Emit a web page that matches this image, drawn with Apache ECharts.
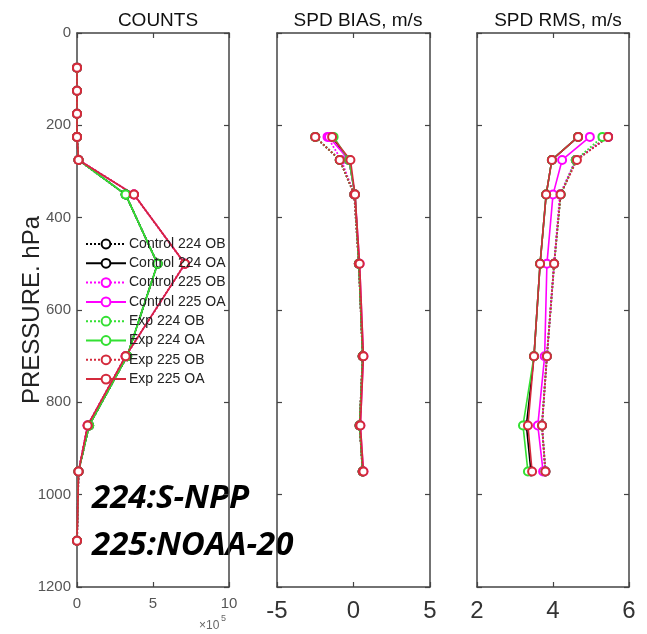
<!DOCTYPE html>
<html>
<head>
<meta charset="utf-8">
<script src="https://cdn.jsdelivr.net/npm/echarts@6/dist/echarts.min.js"></script>
<style>html,body{margin:0;padding:0;background:#fff;}#c{width:647px;height:634px;}</style>
</head>
<body>
<div id="c"></div>
<script>
// ---------- DATA ----------
var seriesNames = ['Control 224 OB','Control 224 OA','Control 225 OB','Control 225 OA','Exp 224 OB','Exp 224 OA','Exp 225 OB','Exp 225 OA'];
var countLevels = [75,125,175,225,275,350,500,700,850,950,1100];
var count224 = [0,0,0,0,10000,320000,530000,330000,80000,10000,0];
var count225 = [0,0,0,0,10000,375000,710000,320000,70000,10000,0];

var statLevels = [225,275,350,500,700,850,950];
var biasControl224OB = [-2.5,-0.9,0.05,0.35,0.6,0.4,0.6];
var biasControl224OA = [-1.4,-0.3,0.1,0.35,0.6,0.4,0.6];
var biasControl225OB = [-1.7,-0.8,0.05,0.35,0.6,0.4,0.6];
var biasControl225OA = [-1.6,-0.3,0.1,0.4,0.65,0.45,0.65];
var biasExp224OB = [-2.5,-0.9,0.05,0.35,0.6,0.4,0.6];
var biasExp224OA = [-1.3,-0.3,0.1,0.35,0.6,0.4,0.6];
var biasExp225OB = [-2.5,-0.9,0.05,0.35,0.6,0.4,0.6];
var biasExp225OA = [-1.4,-0.2,0.1,0.4,0.65,0.45,0.65];

var rmsControl224OB = [5.45,4.6,4.2,4.03,3.84,3.71,3.8];
var rmsControl224OA = [4.66,3.97,3.82,3.66,3.5,3.3,3.42];
var rmsControl225OB = [5.45,4.6,4.18,4.03,3.84,3.71,3.8];
var rmsControl225OA = [4.97,4.24,4.0,3.84,3.78,3.6,3.74];
var rmsExp224OB = [5.3,4.6,4.2,4.03,3.84,3.71,3.8];
var rmsExp224OA = [4.66,3.97,3.82,3.66,3.5,3.21,3.34];
var rmsExp225OB = [5.45,4.63,4.2,4.03,3.84,3.71,3.8];
var rmsExp225OA = [4.66,3.97,3.82,3.66,3.5,3.34,3.45];

var countTicks = ['0','5','10'];
// ---------- STYLE ----------
var colors = ['#000000','#000000','#ff00ff','#ff00ff','#33e033','#33e033','#d42a3c','#d42a3c'];
var dashed = [true,false,true,false,true,false,true,false];

var countsBy = [count224,count224,count225,count225,count224,count224,count225,count225];
var biasBy = [biasControl224OB,biasControl224OA,biasControl225OB,biasControl225OA,biasExp224OB,biasExp224OA,biasExp225OB,biasExp225OA];
var rmsBy = [rmsControl224OB,rmsControl224OA,rmsControl225OB,rmsControl225OA,rmsExp224OB,rmsExp224OA,rmsExp225OB,rmsExp225OA];

function pairs(vals, levels){ return levels.map(function(p,i){ return [vals[i], p]; }); }

var series = [];
function addPanel(dataBy, levels, axisIdx){
  for (var i=0;i<8;i++){
    series.push({
      name: seriesNames[i], type:'line', xAxisIndex: axisIdx, yAxisIndex: axisIdx,
      data: pairs(dataBy[i], levels),
      symbol:'emptyCircle', symbolSize:8,
      itemStyle:{color:colors[i], borderWidth:1.5},
      lineStyle:{color:colors[i], width: dashed[i]?1.8:1.6, type: dashed[i]?'dotted':'solid'},
      animation:false
    });
  }
}
addPanel(countsBy, countLevels, 0);
addPanel(biasBy, statLevels, 2);
addPanel(rmsBy, statLevels, 4);

var axisLineStyle = {show:true, onZero:false, lineStyle:{color:'#444', width:1.5}};
var tickStyle = {show:true, inside:true, length:5, lineStyle:{color:'#444', width:1.2}};
var font = 'Liberation Sans';

function xAx(grid, min, max, interval, pos, labelOpt){
  return {
    type:'value', gridIndex:grid, position:pos, min:min, max:max, interval:interval,
    axisLine: axisLineStyle, axisTick: tickStyle, splitLine:{show:false},
    axisLabel: labelOpt || {show:false}
  };
}
function yAx(grid, pos, labelOpt, extra){
  var a = {
    type:'value', gridIndex:grid, position:pos, inverse:true, min:0, max:1200, interval:200,
    axisLine: axisLineStyle, axisTick: tickStyle, splitLine:{show:false},
    axisLabel: labelOpt || {show:false}
  };
  if (extra) for (var k in extra) a[k]=extra[k];
  return a;
}

var option = {
  backgroundColor:'#fff',
  animation:false,
  title: [
    {text:'COUNTS', left:153, top:6, textAlign:'center', textStyle:{fontFamily:font, fontSize:19, fontWeight:'normal', color:'#111'}},
    {text:'SPD BIAS, m/s', left:353, top:6, textAlign:'center', textStyle:{fontFamily:font, fontSize:19, fontWeight:'normal', color:'#111'}},
    {text:'SPD RMS, m/s', left:553, top:6, textAlign:'center', textStyle:{fontFamily:font, fontSize:19, fontWeight:'normal', color:'#111'}}
  ],
  grid: [
    {left:77, top:33, width:152, height:554, containLabel:false},
    {left:277, top:33, width:153, height:554, containLabel:false},
    {left:477, top:33, width:152, height:554, containLabel:false}
  ],
  xAxis: [
    xAx(0, 0, 1000000, 500000, 'bottom', {show:true, fontFamily:font, fontSize:15, color:'#555', margin:9, formatter:function(v){ return countTicks[Math.round(v/500000)]; }}),
    xAx(0, 0, 1000000, 500000, 'top'),
    xAx(1, -5, 5, 5, 'bottom', {show:true, fontFamily:font, fontSize:24, color:'#333', margin:12}),
    xAx(1, -5, 5, 5, 'top'),
    xAx(2, 2, 6, 2, 'bottom', {show:true, fontFamily:font, fontSize:24, color:'#333', margin:12}),
    xAx(2, 2, 6, 2, 'top')
  ],
  yAxis: [
    yAx(0, 'left', {show:true, fontFamily:font, fontSize:15, color:'#555', margin:6, formatter:function(v){ return String(v); }},
        {name:'PRESSURE. hPa', nameLocation:'middle', nameGap:33, nameMoveOverlap:false, nameTextStyle:{fontFamily:font, fontSize:24, color:'#222'}}),
    yAx(0, 'right'),
    yAx(1, 'left'),
    yAx(1, 'right'),
    yAx(2, 'left'),
    yAx(2, 'right')
  ],
  legend: {
    data: seriesNames, orient:'vertical', left:85, top:237, itemGap:5.3, itemWidth:40, itemHeight:11,
    textStyle:{fontFamily:font, fontSize:14, color:'#222', padding:[0,0,0,-2]},
    backgroundColor:'rgba(0,0,0,0)', padding:0, selectedMode:false
  },
  graphic: [
    {type:'text', left:92, top:482, style:{text:'224:S-NPP', fontFamily:'Open Sans', fontSize:33, fontWeight:'bold', fontStyle:'italic', fill:'#000'}},
    {type:'text', left:92, top:529, style:{text:'225:NOAA-20', fontFamily:'Open Sans', fontSize:33, fontWeight:'bold', fontStyle:'italic', fill:'#000'}},
    {type:'text', left:199, top:620, style:{text:'×10', fontFamily:font, fontSize:12, fill:'#666'}},
    {type:'text', left:221, top:614, style:{text:'5', fontFamily:font, fontSize:9, fill:'#666'}}
  ],
  series: series
};
var chart = echarts.init(document.getElementById('c'), null, {renderer:'canvas'});
chart.setOption(option);
</script>
</body>
</html>
